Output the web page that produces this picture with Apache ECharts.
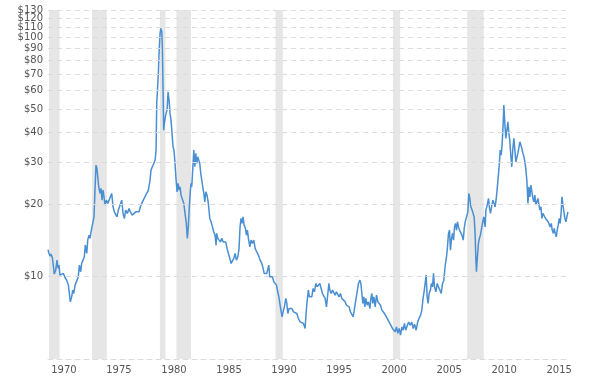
<!DOCTYPE html>
<html>
<head>
<meta charset="utf-8">
<script src="https://cdn.jsdelivr.net/npm/echarts@6/dist/echarts.min.js"></script>
<style>
html,body{margin:0;padding:0;background:#fff;}
#chart{width:602px;height:379px;}
</style>
</head>
<body>
<div id="chart"></div>
<script>
// Decimal years of each reading
var dates = [
1969.83,1969.92,1970.01,1970.10,1970.22,1970.31,1970.40,1970.53,1970.65,1970.74,
1970.83,1970.92,1971.08,1971.22,1971.38,1971.53,1971.68,1971.77,1971.86,1971.98,
1972.08,1972.17,1972.29,1972.44,1972.58,1972.68,1972.80,1972.89,1973.01,1973.13,
1973.22,1973.35,1973.44,1973.56,1973.65,1973.74,1973.89,1974.01,1974.10,1974.19,
1974.28,1974.35,1974.44,1974.56,1974.65,1974.74,1974.83,1974.92,1975.01,1975.13,
1975.26,1975.38,1975.49,1975.62,1975.74,1975.86,1976.01,1976.10,1976.22,1976.38,
1976.53,1976.65,1976.77,1976.89,1977.04,1977.19,1977.31,1977.49,1977.65,1977.80,
1977.95,1978.10,1978.22,1978.35,1978.49,1978.62,1978.80,1978.95,1979.10,1979.19,
1979.31,1979.44,1979.56,1979.65,1979.71,1979.80,1979.86,1979.92,1980.01,1980.08,
1980.17,1980.22,1980.28,1980.34,1980.40,1980.49,1980.56,1980.65,1980.74,1980.83,
1980.92,1981.01,1981.10,1981.19,1981.28,1981.37,1981.47,1981.56,1981.65,1981.74,
1981.83,1981.92,1982.04,1982.17,1982.28,1982.40,1982.49,1982.58,1982.67,1982.77,
1982.83,1982.89,1982.98,1983.08,1983.17,1983.26,1983.35,1983.44,1983.53,1983.62,
1983.71,1983.80,1983.89,1983.99,1984.08,1984.17,1984.28,1984.40,1984.53,1984.65,
1984.77,1984.89,1985.01,1985.10,1985.16,1985.26,1985.37,1985.49,1985.62,1985.74,
1985.86,1985.98,1986.10,1986.22,1986.35,1986.47,1986.58,1986.71,1986.83,1986.95,
1987.08,1987.19,1987.28,1987.37,1987.46,1987.55,1987.65,1987.77,1987.86,1987.95,
1988.04,1988.17,1988.28,1988.40,1988.53,1988.65,1988.80,1988.95,1989.10,1989.26,
1989.38,1989.47,1989.59,1989.71,1989.80,1989.89,1989.98,1990.10,1990.22,1990.35,
1990.47,1990.59,1990.71,1990.83,1990.92,1991.01,1991.10,1991.19,1991.31,1991.44,
1991.53,1991.62,1991.74,1991.86,1991.99,1992.13,1992.28,1992.44,1992.58,1992.74,
1992.89,1993.04,1993.19,1993.28,1993.37,1993.49,1993.58,1993.67,1993.80,1993.92,
1994.04,1994.17,1994.28,1994.40,1994.53,1994.65,1994.77,1994.89,1995.01,1995.13,
1995.26,1995.35,1995.44,1995.56,1995.68,1995.80,1995.92,1996.04,1996.17,1996.28,
1996.40,1996.53,1996.68,1996.83,1996.95,1997.08,1997.19,1997.31,1997.44,1997.56,
1997.68,1997.80,1997.92,1998.04,1998.17,1998.26,1998.35,1998.44,1998.53,1998.62,
1998.71,1998.83,1998.95,1999.08,1999.17,1999.26,1999.35,1999.44,1999.56,1999.68,
1999.80,1999.92,2000.04,2000.17,2000.29,2000.40,2000.53,2000.65,2000.77,2000.89,
2001.01,2001.13,2001.25,2001.38,2001.49,2001.62,2001.74,2001.86,2001.99,2002.10,
2002.22,2002.33,2002.46,2002.60,2002.74,2002.88,2003.01,2003.14,2003.28,2003.42,
2003.55,2003.69,2003.80,2003.89,2003.98,2004.10,2004.19,2004.28,2004.37,2004.46,
2004.58,2004.67,2004.77,2004.86,2004.95,2005.08,2005.19,2005.31,2005.44,2005.56,
2005.68,2005.80,2005.92,2006.04,2006.13,2006.22,2006.31,2006.40,2006.50,2006.59,
2006.68,2006.77,2006.86,2006.95,2007.04,2007.13,2007.22,2007.31,2007.44,2007.56,
2007.65,2007.74,2007.86,2007.98,2008.07,2008.16,2008.25,2008.37,2008.46,2008.55,
2008.64,2008.71,2008.76,2008.85,2008.94,2009.03,2009.12,2009.21,2009.31,2009.43,
2009.55,2009.62,2009.74,2009.86,2009.95,2010.04,2010.16,2010.26,2010.37,2010.46,
2010.56,2010.65,2010.74,2010.83,2010.92,2011.01,2011.10,2011.19,2011.25,2011.34,
2011.43,2011.53,2011.62,2011.71,2011.79,2011.88,2011.97,2012.06,2012.16,2012.24,
2012.34,2012.43,2012.52,2012.61,2012.71,2012.80,2012.89,2012.98,2013.08,2013.17,
2013.26,2013.35,2013.44,2013.53,2013.62,2013.71,2013.80,2013.89,2013.98,2014.07,
2014.16,2014.26,2014.35,2014.44,2014.53,2014.62,2014.71,2014.80,2014.92,2015.04,
2015.16,2015.28,2015.37,2015.46,2015.56,2015.65,2015.74,2015.83,2015.92,2016.01,
2016.10,2016.19,2016.28,2016.37,2016.46,2016.53,2016.62,2016.71,2016.80,2016.89,
2016.98,2017.07
];

// Price (USD per ounce, log scale)
var prices = [
12.9,12.45,12.13,12.37,11.98,11.12,10.2,10.59,11.67,10.80,
11.12,10.10,9.93,10.27,9.87,9.62,9.17,8.46,7.81,8.19,
8.74,8.46,9.17,9.32,9.93,11.12,10.43,11.30,11.67,12.05,
13.48,12.45,14.15,14.85,14.39,15.33,15.58,17.71,22.91,29.15,
28.23,28.68,23.65,22.19,23.29,20.80,22.91,21.47,19.83,20.80,
20.16,20.80,21.14,22.19,19.51,18.58,18.58,17.71,18.89,19.21,
20.80,18.30,17.44,18.89,18.30,19.21,18.58,18.00,17.71,18.58,
18.89,18.58,19.51,20.16,20.80,20.47,22.19,22.91,25.23,27.78,
28.68,29.63,30.60,33.69,52.85,53.67,70.57,85.57,103.6,108.8,
105.3,91.19,62.02,40.85,43.58,46.44,47.99,49.54,59.10,54.55,
47.99,44.99,39.58,34.77,33.69,29.63,25.23,22.53,24.44,22.91,
23.65,21.83,21.47,20.16,18.30,16.62,14.39,16.08,19.51,22.91,
24.44,23.65,27.78,33.69,28.68,32.64,29.63,31.58,30.60,29.63,
26.91,25.23,23.65,22.19,20.47,22.53,21.83,20.16,17.44,16.88,
16.62,15.33,14.85,13.48,15.10,14.39,14.61,13.91,14.39,13.91,
13.70,13.91,13.06,12.85,11.86,11.30,11.48,11.86,12.45,11.67,
12.05,13.06,16.08,17.44,16.62,17.71,16.35,15.83,14.85,15.58,
14.39,13.26,14.15,13.70,14.15,13.06,12.64,12.25,11.67,11.30,
10.77,10.27,10.10,10.27,10.10,11.12,9.93,9.78,9.93,9.47,
9.32,9.17,8.60,8.07,7.56,7.69,6.76,7.09,7.44,8.07,
7.69,6.98,7.32,7.21,7.32,7.09,7.21,6.98,6.65,6.44,
6.44,6.34,6.04,6.98,7.81,8.74,8.19,8.07,8.19,8.88,
8.60,9.32,9.02,9.17,9.32,8.88,8.46,8.33,8.07,7.44,
8.46,9.32,8.74,8.46,8.74,8.60,8.33,8.60,8.46,8.19,
8.46,8.07,7.94,7.81,7.56,7.69,7.44,7.09,6.98,6.76,
7.32,7.94,8.60,9.32,9.62,9.32,8.46,7.69,8.19,7.44,
8.07,7.56,7.81,7.32,8.07,8.46,7.69,8.19,7.44,8.33,
7.81,7.94,7.56,7.21,7.09,6.98,6.87,6.65,6.54,6.34,
6.24,6.04,5.94,5.85,6.13,5.76,6.04,5.66,6.13,5.94,
6.34,5.94,6.18,6.42,6.24,6.42,6.04,6.30,5.94,6.42,
6.67,6.87,7.21,7.94,8.46,9.32,10.10,8.19,7.69,8.46,
8.74,9.32,9.02,10.27,9.02,8.60,9.32,9.02,8.74,8.46,
9.32,9.62,11.08,12.05,13.26,15.10,15.58,12.85,14.39,15.10,
14.15,16.08,16.62,15.58,16.88,16.08,15.58,15.33,14.85,14.15,
15.83,16.88,17.16,18.58,22.19,21.14,19.51,18.89,19.21,17.71,
15.10,11.67,10.43,12.05,13.70,14.39,14.85,15.10,16.62,17.71,
16.08,18.89,19.83,21.14,19.21,18.30,19.83,20.80,20.80,19.51,
21.14,23.29,26.04,29.15,33.69,32.11,35.94,43.58,51.99,43.58,
37.71,40.85,44.26,39.58,37.10,32.11,28.68,33.69,37.71,34.24,
30.09,29.63,32.64,34.24,36.49,35.35,34.24,32.64,31.58,30.09,
27.78,24.82,20.16,23.65,21.47,24.04,22.53,21.14,20.47,21.83,
19.83,20.47,21.14,19.83,18.89,19.51,17.44,18.30,18.00,17.44,
17.44,16.88,16.62,16.08,16.62,15.58,15.10,15.83,15.10,14.61,
15.58,16.35,17.44,16.62,18.58,21.47,19.83,19.51,17.44,16.88,
17.71,18.58
];

// Recession periods (decimal years)
var recessionStarts = [1969.92, 1973.83, 1980.00, 1981.50, 1990.50, 2001.17, 2007.92];
var recessionEnds   = [1970.88, 1975.17, 1980.50, 1982.83, 1991.17, 2001.83, 2009.42];

// Y gridline / tick values
var yTicks = [10, 20, 30, 40, 50, 60, 70, 80, 90, 100, 110, 120, 130];
// X tick labels
var xTicks = [1970, 1975, 1980, 1985, 1990, 1995, 2000, 2005, 2010, 2015];

var seriesData = dates.map(function (d, i) { return [d, prices[i]]; });
var areas = recessionStarts.map(function (s, i) { return [{ xAxis: s }, { xAxis: recessionEnds[i] }]; });
var gridLines = yTicks.map(function (v) { return { yAxis: v }; });

var FONT = 'DejaVu Sans';
var chart = echarts.init(document.getElementById('chart'), null, { renderer: 'canvas' });
chart.setOption({
  animation: false,
  backgroundColor: '#ffffff',
  grid: { left: 48, right: 34, top: 10, bottom: 20, containLabel: false },
  xAxis: [
    {
      type: 'value', min: 1969.83, max: 2017.08,
      axisLine: { show: true, onZero: false, lineStyle: { color: '#dcdcdc', type: [5, 4], width: 1 } },
      axisTick: { show: false }, axisLabel: { show: false }, splitLine: { show: false }
    },
    {
      type: 'value', min: 1968.55, max: 2015.80, position: 'bottom',
      axisLine: { show: false, onZero: false }, axisTick: { show: false }, splitLine: { show: false },
      axisLabel: {
        show: true, customValues: xTicks, margin: 6, color: '#555',
        fontSize: 10, fontFamily: FONT,
        formatter: function (v) { return String(Math.round(v)); }
      }
    }
  ],
  yAxis: {
    type: 'log', logBase: 10, min: 4.5, max: 130,
    axisLine: { show: false }, axisTick: { show: false },
    axisLabel: { show: false }, splitLine: { show: false }
  },
  series: [
    {
      type: 'line', data: [], xAxisIndex: 0, z: 1, silent: true,
      markArea: { silent: true, itemStyle: { color: '#e6e6e6' }, data: areas }
    },
    {
      type: 'line', data: [], xAxisIndex: 0, z: 2, silent: true,
      markLine: {
        silent: true, symbol: ['none', 'none'], animation: false,
        lineStyle: { color: '#dcdcdc', type: [5, 4], width: 1 },
        label: {
          show: true, position: 'start', distance: 5, color: '#555',
          fontSize: 10, fontFamily: FONT,
          formatter: function (p) { return '$' + p.value; }
        },
        emphasis: { disabled: true },
        data: gridLines
      }
    },
    {
      type: 'line', data: seriesData, xAxisIndex: 0, z: 3,
      showSymbol: false, symbol: 'none',
      lineStyle: { color: '#4a8fd2', width: 1.5 },
      itemStyle: { color: '#4a8fd2' }
    }
  ]
});
</script>
</body>
</html>
